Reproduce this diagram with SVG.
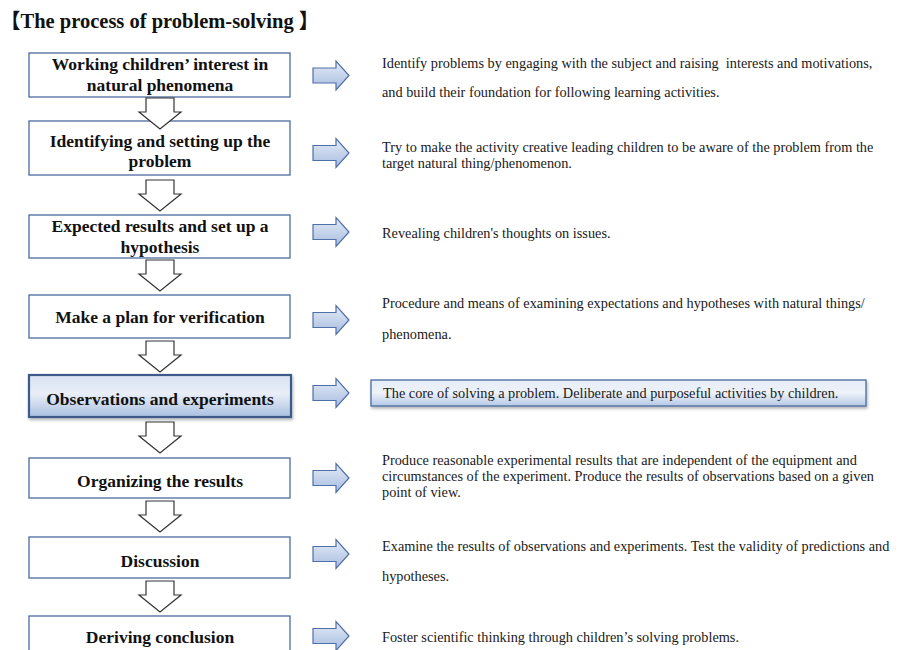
<svg xmlns="http://www.w3.org/2000/svg" xmlns:xlink="http://www.w3.org/1999/xlink" width="906" height="650" viewBox="0 0 906 650">
<style>
.bg{fill:#ffffff}
.box{fill:#ffffff;stroke:#4a6a9e;stroke-width:1.3}
.hl{fill:url(#hlGrad);stroke:#3c5a8a;stroke-width:2.2}
.tbox{fill:url(#tGrad);stroke:#4a6a9e;stroke-width:1.3}
.nt{font-family:"Liberation Serif","Times New Roman",serif;font-weight:bold;font-size:17.5px;fill:#111;text-anchor:middle}
.dt{font-family:"Liberation Serif","Times New Roman",serif;font-size:14.3px;fill:#1a1a1a}
.title{font-family:"Liberation Serif","Noto Sans CJK JP",serif;font-weight:bold;font-size:20.5px;fill:#111}
.darr{fill:#ffffff;stroke:#333333;stroke-width:1.2;stroke-linejoin:miter}
.rarr{fill:url(#aGrad);stroke:#4f6fa8;stroke-width:1.2}
</style>
<defs>
<linearGradient id="hlGrad" x1="0" y1="0" x2="0" y2="1">
<stop offset="0" stop-color="#d9e3f2"/>
<stop offset="0.45" stop-color="#e9eef7"/>
<stop offset="1" stop-color="#a9bfe0"/>
</linearGradient>
<linearGradient id="tGrad" x1="0" y1="0" x2="0" y2="1">
<stop offset="0" stop-color="#e6ecf7"/>
<stop offset="0.5" stop-color="#eef2f9"/>
<stop offset="1" stop-color="#b4c8e6"/>
</linearGradient>
<linearGradient id="aGrad" x1="0" y1="0" x2="0" y2="1">
<stop offset="0" stop-color="#e4ebf7"/>
<stop offset="1" stop-color="#a7bde0"/>
</linearGradient>
<filter id="sh" x="-5%" y="-20%" width="110%" height="150%">
<feDropShadow dx="1" dy="2" stdDeviation="1.5" flood-color="#000" flood-opacity="0.3"/>
</filter>
<path id="dArrow" class="darr" d="M146,0 H174 V14 H181 L160,31 L139,14 H146 Z"/>
<path id="rArrow" class="rarr" d="M0,-7.5 H23 V-14.5 L36,0 L23,14.5 V7.5 H0 Z"/>
</defs>
<rect class="bg" x="0" y="0" width="906" height="650"/>
<text class="title" x="0" y="28">【The process of problem-solving 】</text>

<g id="n1"><rect class="box" x="29" y="53" width="261" height="44"/><text class="nt" x="160" y="70">Working children’ interest in</text><text class="nt" x="160" y="91">natural phenomena</text></g>
<g id="n2"><rect class="box" x="29" y="121" width="261" height="54"/><text class="nt" x="160" y="147">Identifying and setting up the</text><text class="nt" x="160" y="167">problem</text></g>
<g id="n3"><rect class="box" x="29" y="215" width="261" height="43"/><text class="nt" x="160" y="232">Expected results and set up a</text><text class="nt" x="160" y="253">hypothesis</text></g>
<g id="n4"><rect class="box" x="29" y="295" width="261" height="43"/><text class="nt" x="160" y="323">Make a plan for verification</text></g>
<g id="n5"><rect class="hl" x="29" y="375" width="262" height="42" filter="url(#sh)"/><text class="nt" x="160" y="405">Observations and experiments</text></g>
<g id="n6"><rect class="box" x="29" y="458" width="261" height="40"/><text class="nt" x="160" y="487">Organizing the results</text></g>
<g id="n7"><rect class="box" x="29" y="537" width="261" height="41"/><text class="nt" x="160" y="567">Discussion</text></g>
<g id="n8"><rect class="box" x="29" y="616" width="261" height="44"/><text class="nt" x="160" y="643">Deriving conclusion</text></g>

<g id="connectors">
<use xlink:href="#dArrow" href="#dArrow" transform="translate(0,98)"/>
<use xlink:href="#dArrow" href="#dArrow" transform="translate(0,180)"/>
<use xlink:href="#dArrow" href="#dArrow" transform="translate(0,260)"/>
<use xlink:href="#dArrow" href="#dArrow" transform="translate(0,341)"/>
<use xlink:href="#dArrow" href="#dArrow" transform="translate(0,422)"/>
<use xlink:href="#dArrow" href="#dArrow" transform="translate(0,501)"/>
<use xlink:href="#dArrow" href="#dArrow" transform="translate(0,581)"/>
<use xlink:href="#rArrow" href="#rArrow" transform="translate(313,75.5)"/>
<use xlink:href="#rArrow" href="#rArrow" transform="translate(313,153)"/>
<use xlink:href="#rArrow" href="#rArrow" transform="translate(313,232)"/>
<use xlink:href="#rArrow" href="#rArrow" transform="translate(313,320)"/>
<use xlink:href="#rArrow" href="#rArrow" transform="translate(313,393)"/>
<use xlink:href="#rArrow" href="#rArrow" transform="translate(313,478)"/>
<use xlink:href="#rArrow" href="#rArrow" transform="translate(313,554)"/>
<use xlink:href="#rArrow" href="#rArrow" transform="translate(313,636)"/>
</g>

<g id="d1"><text class="dt" x="382" y="68" xml:space="preserve">Identify problems by engaging with the subject and raising  interests and motivations,</text><text class="dt" x="382" y="97">and build their foundation for following learning activities.</text></g>
<g id="d2"><text class="dt" x="382" y="152">Try to make the activity creative leading children to be aware of the problem from the</text><text class="dt" x="382" y="168">target natural thing/phenomenon.</text></g>
<g id="d3"><text class="dt" x="382" y="238">Revealing children's thoughts on issues.</text></g>
<g id="d4"><text class="dt" x="382" y="308">Procedure and means of examining expectations and hypotheses with natural things/</text><text class="dt" x="382" y="339">phenomena.</text></g>
<g id="d5"><rect class="tbox" x="371" y="380" width="495" height="26" filter="url(#sh)"/><text class="dt" x="383" y="398">The core of solving a problem. Deliberate and purposeful activities by children.</text></g>
<g id="d6"><text class="dt" x="382" y="465">Produce reasonable experimental results that are independent of the equipment and</text><text class="dt" x="382" y="481">circumstances of the experiment. Produce the results of observations based on a given</text><text class="dt" x="382" y="497">point of view.</text></g>
<g id="d7"><text class="dt" x="382" y="551">Examine the results of observations and experiments. Test the validity of predictions and</text><text class="dt" x="382" y="581">hypotheses.</text></g>
<g id="d8"><text class="dt" x="382" y="642">Foster scientific thinking through children’s solving problems.</text></g>
</svg>
